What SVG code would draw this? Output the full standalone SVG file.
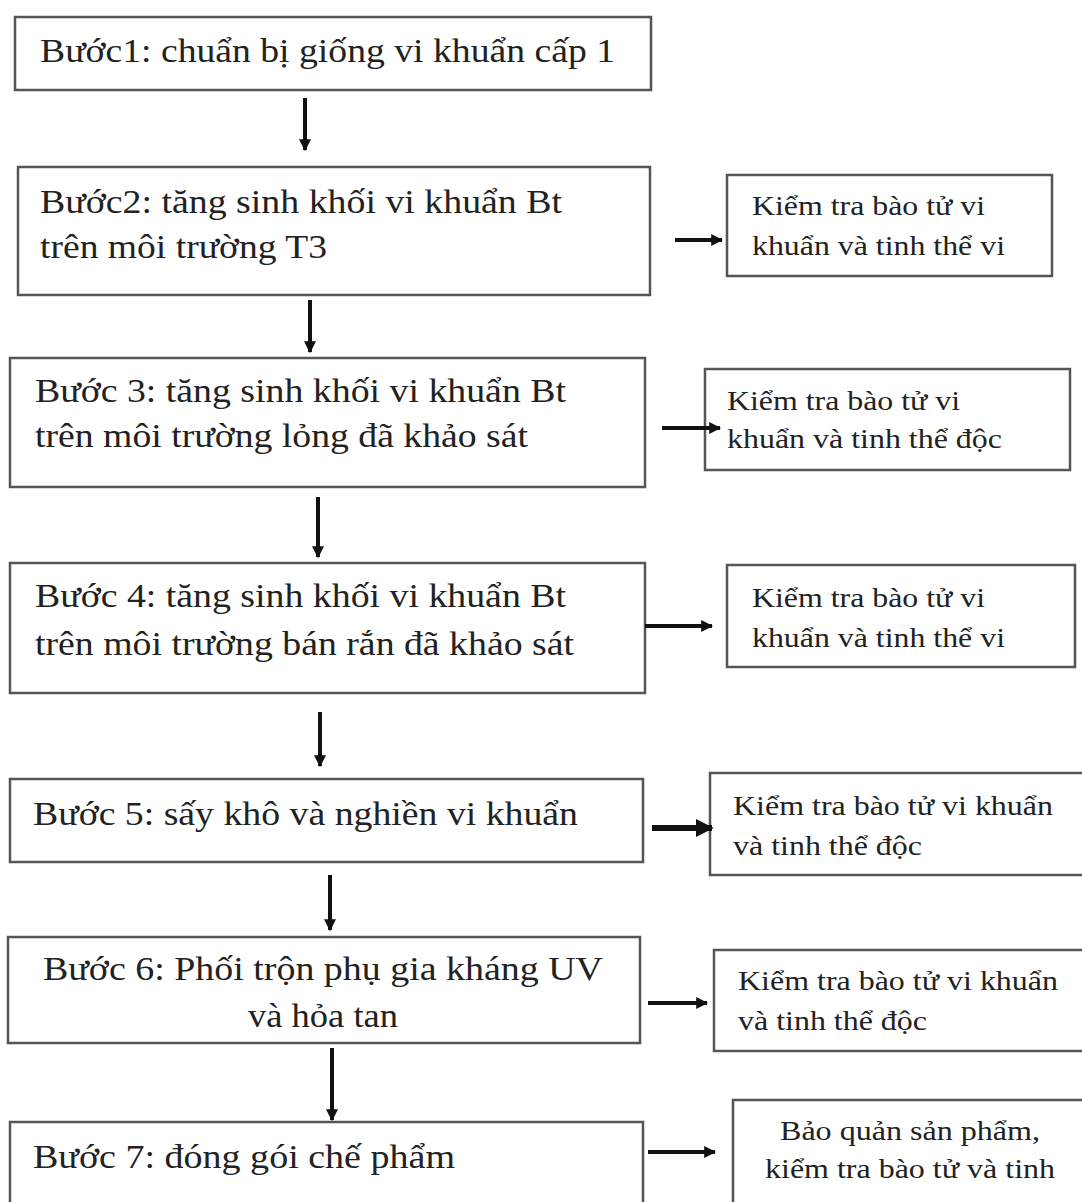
<svg xmlns="http://www.w3.org/2000/svg" width="1082" height="1202" viewBox="0 0 1082 1202">
<defs>
<marker id="ah" viewBox="0 0 10 10" refX="9" refY="5" markerWidth="3" markerHeight="3" orient="auto" markerUnits="strokeWidth">
<path d="M0,0 L10,5 L0,10 z" fill="#111"/>
</marker>
<style>
.box{fill:#fff;stroke:#555;stroke-width:2.5}
.t{font-family:'Liberation Serif',serif;font-size:34px;fill:#222}
.s{font-family:'Liberation Serif',serif;font-size:28px;fill:#222}
.c{fill:none;stroke:#111;stroke-width:4;marker-end:url(#ah)}
</style>
</defs>
<rect width="1082" height="1202" fill="#fff"/>
<g id="step1"><rect class="box" x="15" y="17" width="636" height="73"/><text class="t" x="40" y="62" textLength="575" lengthAdjust="spacingAndGlyphs">Bước1: chuẩn bị giống vi khuẩn cấp 1</text></g>
<g id="step2"><rect class="box" x="18" y="167" width="632" height="128"/><text class="t" x="40" y="213" textLength="522" lengthAdjust="spacingAndGlyphs">Bước2: tăng sinh khối vi khuẩn Bt</text><text class="t" x="40" y="258" textLength="287" lengthAdjust="spacingAndGlyphs">trên môi trường T3</text></g>
<g id="check2"><rect class="box" x="727" y="175" width="325" height="101"/><text class="s" x="752" y="215" textLength="233" lengthAdjust="spacingAndGlyphs">Kiểm tra bào tử vi</text><text class="s" x="752" y="255" textLength="253" lengthAdjust="spacingAndGlyphs">khuẩn và tinh thể vi</text></g>
<g id="step3"><rect class="box" x="10" y="358" width="635" height="129"/><text class="t" x="35" y="402" textLength="531" lengthAdjust="spacingAndGlyphs">Bước 3: tăng sinh khối vi khuẩn Bt</text><text class="t" x="35" y="447" textLength="493" lengthAdjust="spacingAndGlyphs">trên môi trường lỏng đã khảo sát</text></g>
<g id="check3"><rect class="box" x="705" y="369" width="365" height="101"/><text class="s" x="727" y="410" textLength="233" lengthAdjust="spacingAndGlyphs">Kiểm tra bào tử vi</text><text class="s" x="727" y="448" textLength="275" lengthAdjust="spacingAndGlyphs">khuẩn và tinh thể độc</text></g>
<g id="step4"><rect class="box" x="10" y="563" width="635" height="130"/><text class="t" x="35" y="607" textLength="531" lengthAdjust="spacingAndGlyphs">Bước 4: tăng sinh khối vi khuẩn Bt</text><text class="t" x="35" y="655" textLength="539" lengthAdjust="spacingAndGlyphs">trên môi trường bán rắn đã khảo sát</text></g>
<g id="check4"><rect class="box" x="727" y="565" width="348" height="102"/><text class="s" x="752" y="607" textLength="233" lengthAdjust="spacingAndGlyphs">Kiểm tra bào tử vi</text><text class="s" x="752" y="647" textLength="253" lengthAdjust="spacingAndGlyphs">khuẩn và tinh thể vi</text></g>
<g id="step5"><rect class="box" x="10" y="779" width="633" height="83"/><text class="t" x="33" y="825" textLength="545" lengthAdjust="spacingAndGlyphs">Bước 5: sấy khô và nghiền vi khuẩn</text></g>
<g id="check5"><rect class="box" x="710" y="773" width="380" height="102"/><text class="s" x="733" y="815" textLength="320" lengthAdjust="spacingAndGlyphs">Kiểm tra bào tử vi khuẩn</text><text class="s" x="733" y="855" textLength="189" lengthAdjust="spacingAndGlyphs">và tinh thể độc</text></g>
<g id="step6"><rect class="box" x="8" y="937" width="632" height="106"/><text class="t" x="43" y="980" textLength="560" lengthAdjust="spacingAndGlyphs">Bước 6: Phối trộn phụ gia kháng UV</text><text class="t" x="248" y="1027" textLength="150" lengthAdjust="spacingAndGlyphs">và hỏa tan</text></g>
<g id="check6"><rect class="box" x="714" y="950" width="380" height="101"/><text class="s" x="738" y="990" textLength="320" lengthAdjust="spacingAndGlyphs">Kiểm tra bào tử vi khuẩn</text><text class="s" x="738" y="1030" textLength="189" lengthAdjust="spacingAndGlyphs">và tinh thể độc</text></g>
<g id="step7"><rect class="box" x="10" y="1122" width="633" height="100"/><text class="t" x="33" y="1168" textLength="422" lengthAdjust="spacingAndGlyphs">Bước 7: đóng gói chế phẩm</text></g>
<g id="check7"><rect class="box" x="733" y="1100" width="360" height="120"/><text class="s" x="780" y="1140" textLength="260" lengthAdjust="spacingAndGlyphs">Bảo quản sản phẩm,</text><text class="s" x="765" y="1178" textLength="290" lengthAdjust="spacingAndGlyphs">kiểm tra bào tử và tinh</text></g>
<g id="connectors">
<path class="c" d="M305,98 V150"/>
<path class="c" d="M310,300 V352"/>
<path class="c" d="M318,497 V557"/>
<path class="c" d="M320,712 V766"/>
<path class="c" d="M330,875 V930"/>
<path class="c" d="M332,1048 V1120"/>
<path class="c" d="M675,240 H722"/>
<path class="c" d="M662,428 H720"/>
<path class="c" d="M645,626 H712"/>
<path class="c" d="M652,828 H712" style="stroke-width:6"/>
<path class="c" d="M648,1003 H707"/>
<path class="c" d="M648,1152 H715"/>
</g>
</svg>
